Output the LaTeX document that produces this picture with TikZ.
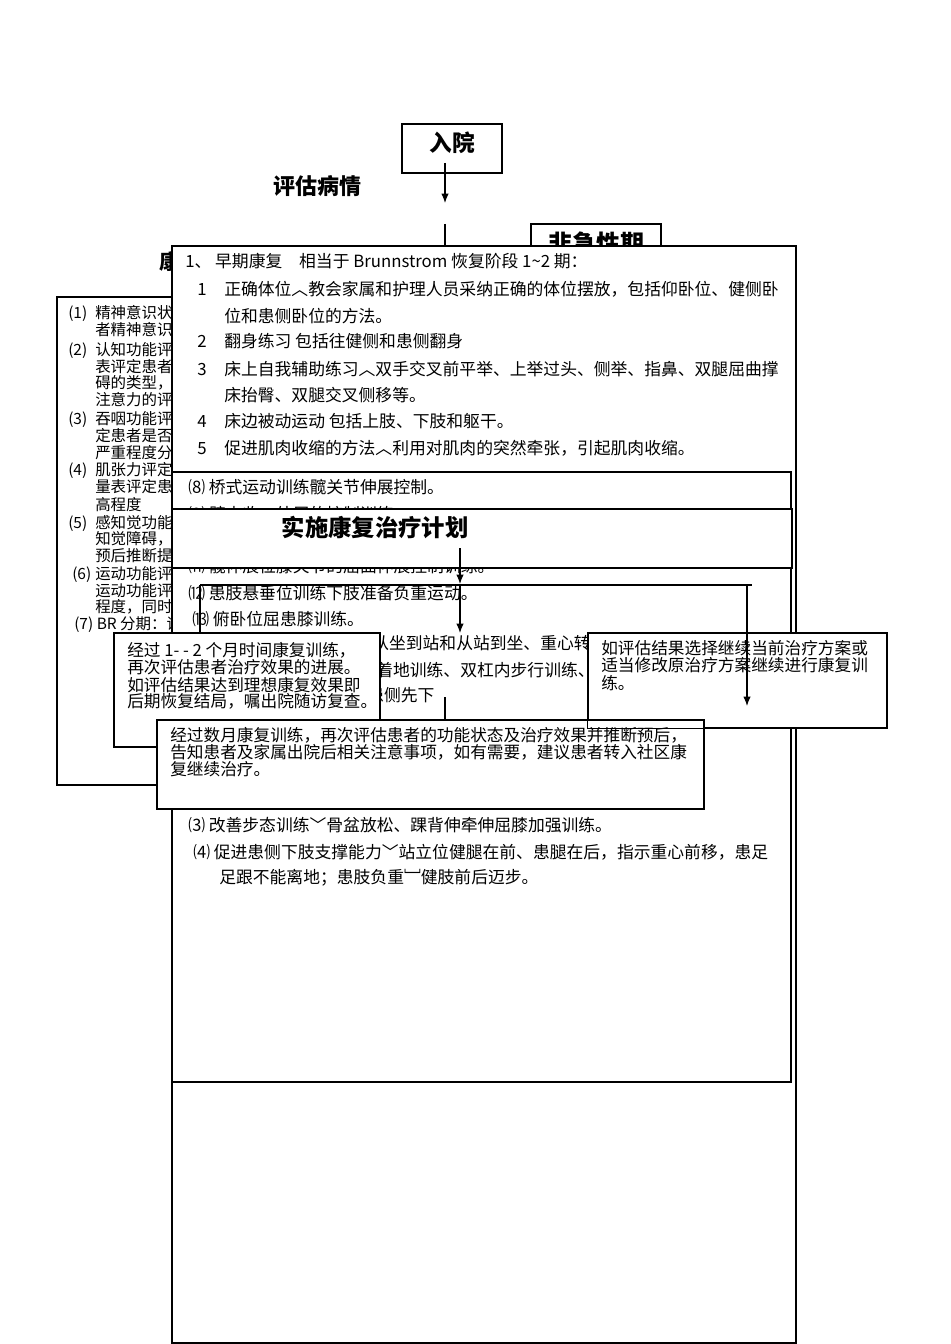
\documentclass[tikz,border=0pt]{standalone}
\usepackage{fontspec}
\setmainfont{Noto Sans CJK SC}
\usetikzlibrary{arrows.meta,fit}
\newcommand\bodyfont{\fontsize{12.6}{15}\selectfont}
\newcommand\leftfont{\fontsize{11.6}{13}\selectfont}
\newcommand\boxfont{\fontsize{12.5}{13}\selectfont}
\newcommand\titlefont{\bfseries\fontsize{17}{20}\selectfont}
\tikzset{
  box/.style={draw, line width=0.8pt, fill=white, inner sep=0pt},
  ln/.style={anchor=base west, inner sep=0pt, font=\bodyfont},
  lf/.style={anchor=base west, inner sep=0pt, font=\leftfont},
  bx/.style={anchor=base west, inner sep=0pt, font=\boxfont},
  arr/.style={-{Latex[length=7pt,width=5.5pt]}, line width=0.8pt},
  conn/.style={line width=0.8pt},
}
\begin{document}
\begin{tikzpicture}[x=0.75pt,y=-0.75pt]
\useasboundingbox (0,0) rectangle (950,1344);
% admission and assessment
\node[box, fit={(402,124) (502,173)}] (ruyuan) {};
\node[font=\titlefont] (ruyuantext) at (452,143) {入院};
\coordinate (ra) at (445,163);
\coordinate (rb) at (445,203);
\draw[arr] (ra) -- (rb);
\node[font=\bfseries\fontsize{16.5}{20}\selectfont] (pinggu) at (317,186) {评估病情};
\node[box, fit={(531,224) (661,275)}] (feiji) {};
\node[font=\bfseries\fontsize{18}{20}\selectfont] (feijitext) at (596,243) {非急性期};
\coordinate (va) at (445,224);
\coordinate (vb) at (445,250);
\draw[conn] (va) -- (vb);
\node[font=\bfseries\fontsize{15.5}{20}\selectfont, anchor=west, inner sep=0pt] (kangfu) at (159,262) {康复评定};

% assessment box on the left
\node[box, fit={(57,297) (260,785)}] (pingding) {};
\node[lf] (l1n) at (68,319) {(1)};
\node[lf] (l1) at (95,319) {精神意识状态};
\node[lf] (l1b) at (95,335) {者精神意识状态};
\node[lf] (l2n) at (68,355) {(2)};
\node[lf] (l2) at (95,355) {认知功能评定};
\node[lf] (l2b) at (95,372) {表评定患者};
\node[lf] (l2c) at (95,388) {碍的类型，};
\node[lf] (l2d) at (95,405) {注意力的评定};
\node[lf] (l3n) at (68,424) {(3)};
\node[lf] (l3) at (95,424) {吞咽功能评定};
\node[lf] (l3b) at (95,441) {定患者是否};
\node[lf] (l3c) at (95,458) {严重程度分级};
\node[lf] (l4n) at (68,475) {(4)};
\node[lf] (l4) at (95,475) {肌张力评定};
\node[lf] (l4b) at (95,492) {量表评定患};
\node[lf] (l4c) at (95,510) {高程度};
\node[lf] (l5n) at (68,528) {(5)};
\node[lf] (l5) at (95,528) {感知觉功能};
\node[lf] (l5b) at (95,544) {知觉障碍，};
\node[lf] (l5c) at (95,561) {预后推断提};
\node[lf] (l6n) at (72,579) {(6)};
\node[lf] (l6) at (95,579) {运动功能评};
\node[lf] (l6b) at (95,596) {运动功能评};
\node[lf] (l6c) at (95,612) {程度，同时};
\node[lf] (l7) at (74,629) {(7) BR 分期：评};

% early rehabilitation
\node[box, line width=0.9pt, fit={(172,246) (796,1343)}] (early) {};
\node[ln] (e0) at (185,268) {1、 早期康复\hspace{1em}相当于 Brunnstrom 恢复阶段 1\textasciitilde 2 期：};
\node[ln] (e1n) at (197,296) {1};
\node[ln] (e1) at (224,296) {正确体位︿教会家属和护理人员采纳正确的体位摆放，包括仰卧位、健侧卧};
\node[ln] (e1b) at (224,322) {位和患侧卧位的方法。};
\node[ln] (e2n) at (197,347) {2};
\node[ln] (e2) at (224,347) {翻身练习 包括往健侧和患侧翻身};
\node[ln] (e3n) at (197,375) {3};
\node[ln] (e3) at (224,375) {床上自我辅助练习︿双手交叉前平举、上举过头、侧举、指鼻、双腿屈曲撑};
\node[ln] (e3b) at (224,401) {床抬臀、双腿交叉侧移等。};
\node[ln] (e4n) at (197,427) {4};
\node[ln] (e4) at (224,427) {床边被动运动 包括上肢、下肢和躯干。};
\node[ln] (e5n) at (197,454) {5};
\node[ln] (e5) at (224,454) {促进肌肉收缩的方法︿利用对肌肉的突然牵张，引起肌肉收缩。};

% later training
\node[box, fit={(172,472) (791,1082)}] (later) {};
\node[ln] (k8) at (188,493) {⑻ 桥式运动训练髋关节伸展控制。};
\node[ln] (k9) at (188,520.5) {⑼ 髋内收、外展的控制训练};
\node[ln] (k11) at (188,572) {⑾ 髋伸展位膝关节的屈曲伸展控制训练。};
\node[ln] (k12) at (188,599) {⑿ 患肢悬垂位训练下肢准备负重运动。};
\node[ln] (k13) at (192,625) {⒀ 俯卧位屈患膝训练。};
\node[ln] (k14) at (372,649) {从坐到站和从站到坐、重心转移};
\node[ln] (k15) at (376,676) {着地训练、双杠内步行训练、};
\node[ln] (k16) at (367,701) {患侧先下};
\node[ln] (k3) at (188,831) {⑶ 改善步态训练﹀骨盆放松、踝背伸牵伸屈膝加强训练。};
\node[ln] (k4) at (193,858) {⑷ 促进患侧下肢支撑能力﹀站立位健腿在前、患腿在后，指示重心前移，患足};
\node[ln] (k4b) at (219,883) {足跟不能离地；患肢负重﹈健肢前后迈步。};

% treatment plan
\node[box, fit={(172,509) (792,568)}] (plan) {};
\node[font=\bfseries\fontsize{17.5}{20}\selectfont] (plantext) at (375,527) {实施康复治疗计划};
\coordinate (pa) at (460,548);
\coordinate (pb) at (460,584);
\draw[arr] (pa) -- (pb);
\coordinate (hl) at (200,585);
\coordinate (hr) at (752,585);
\draw[conn] (hl) -- (hr);
\coordinate (hlb) at (200,640);
\draw[conn] (hl) -- (hlb);
\coordinate (hm) at (460,585);
\coordinate (hmb) at (460,633);
\draw[arr] (hm) -- (hmb);
\coordinate (sa) at (445,697);
\coordinate (sb) at (445,722);
\draw[conn] (sa) -- (sb);

% outcomes
\node[box, fit={(114,633) (380,747)}] (stage) {};
\node[bx] (s1) at (127,656) {经过 1- - 2 个月时间康复训练，};
\node[bx] (s2) at (127,673) {再次评估患者治疗效果的进展。};
\node[bx] (s3) at (127,691) {如评估结果达到理想康复效果即};
\node[bx] (s4) at (127,707) {后期恢复结局，嘱出院随访复查。};
\node[box, fit={(588,633) (887,728)}] (keep) {};
\node[bx] (c1) at (601,654) {如评估结果选择继续当前治疗方案或};
\node[bx] (c2) at (601,671) {适当修改原治疗方案继续进行康复训};
\node[bx] (c3) at (601,689) {练。};
\node[box, fit={(157,720) (704,809)}] (leave) {};
\node[bx] (d1) at (170,741) {经过数月康复训练，再次评估患者的功能状态及治疗效果并推断预后，};
\node[bx] (d2) at (170,758) {告知患者及家属出院后相关注意事项，如有需要，建议患者转入社区康};
\node[bx] (d3) at (170,775) {复继续治疗。};
\draw[conn] (keep.south west) rectangle (keep.north east);
\coordinate (ka) at (747,585);
\coordinate (kb) at (747,706);
\draw[arr] (ka) -- (kb);
\end{tikzpicture}
\end{document}
